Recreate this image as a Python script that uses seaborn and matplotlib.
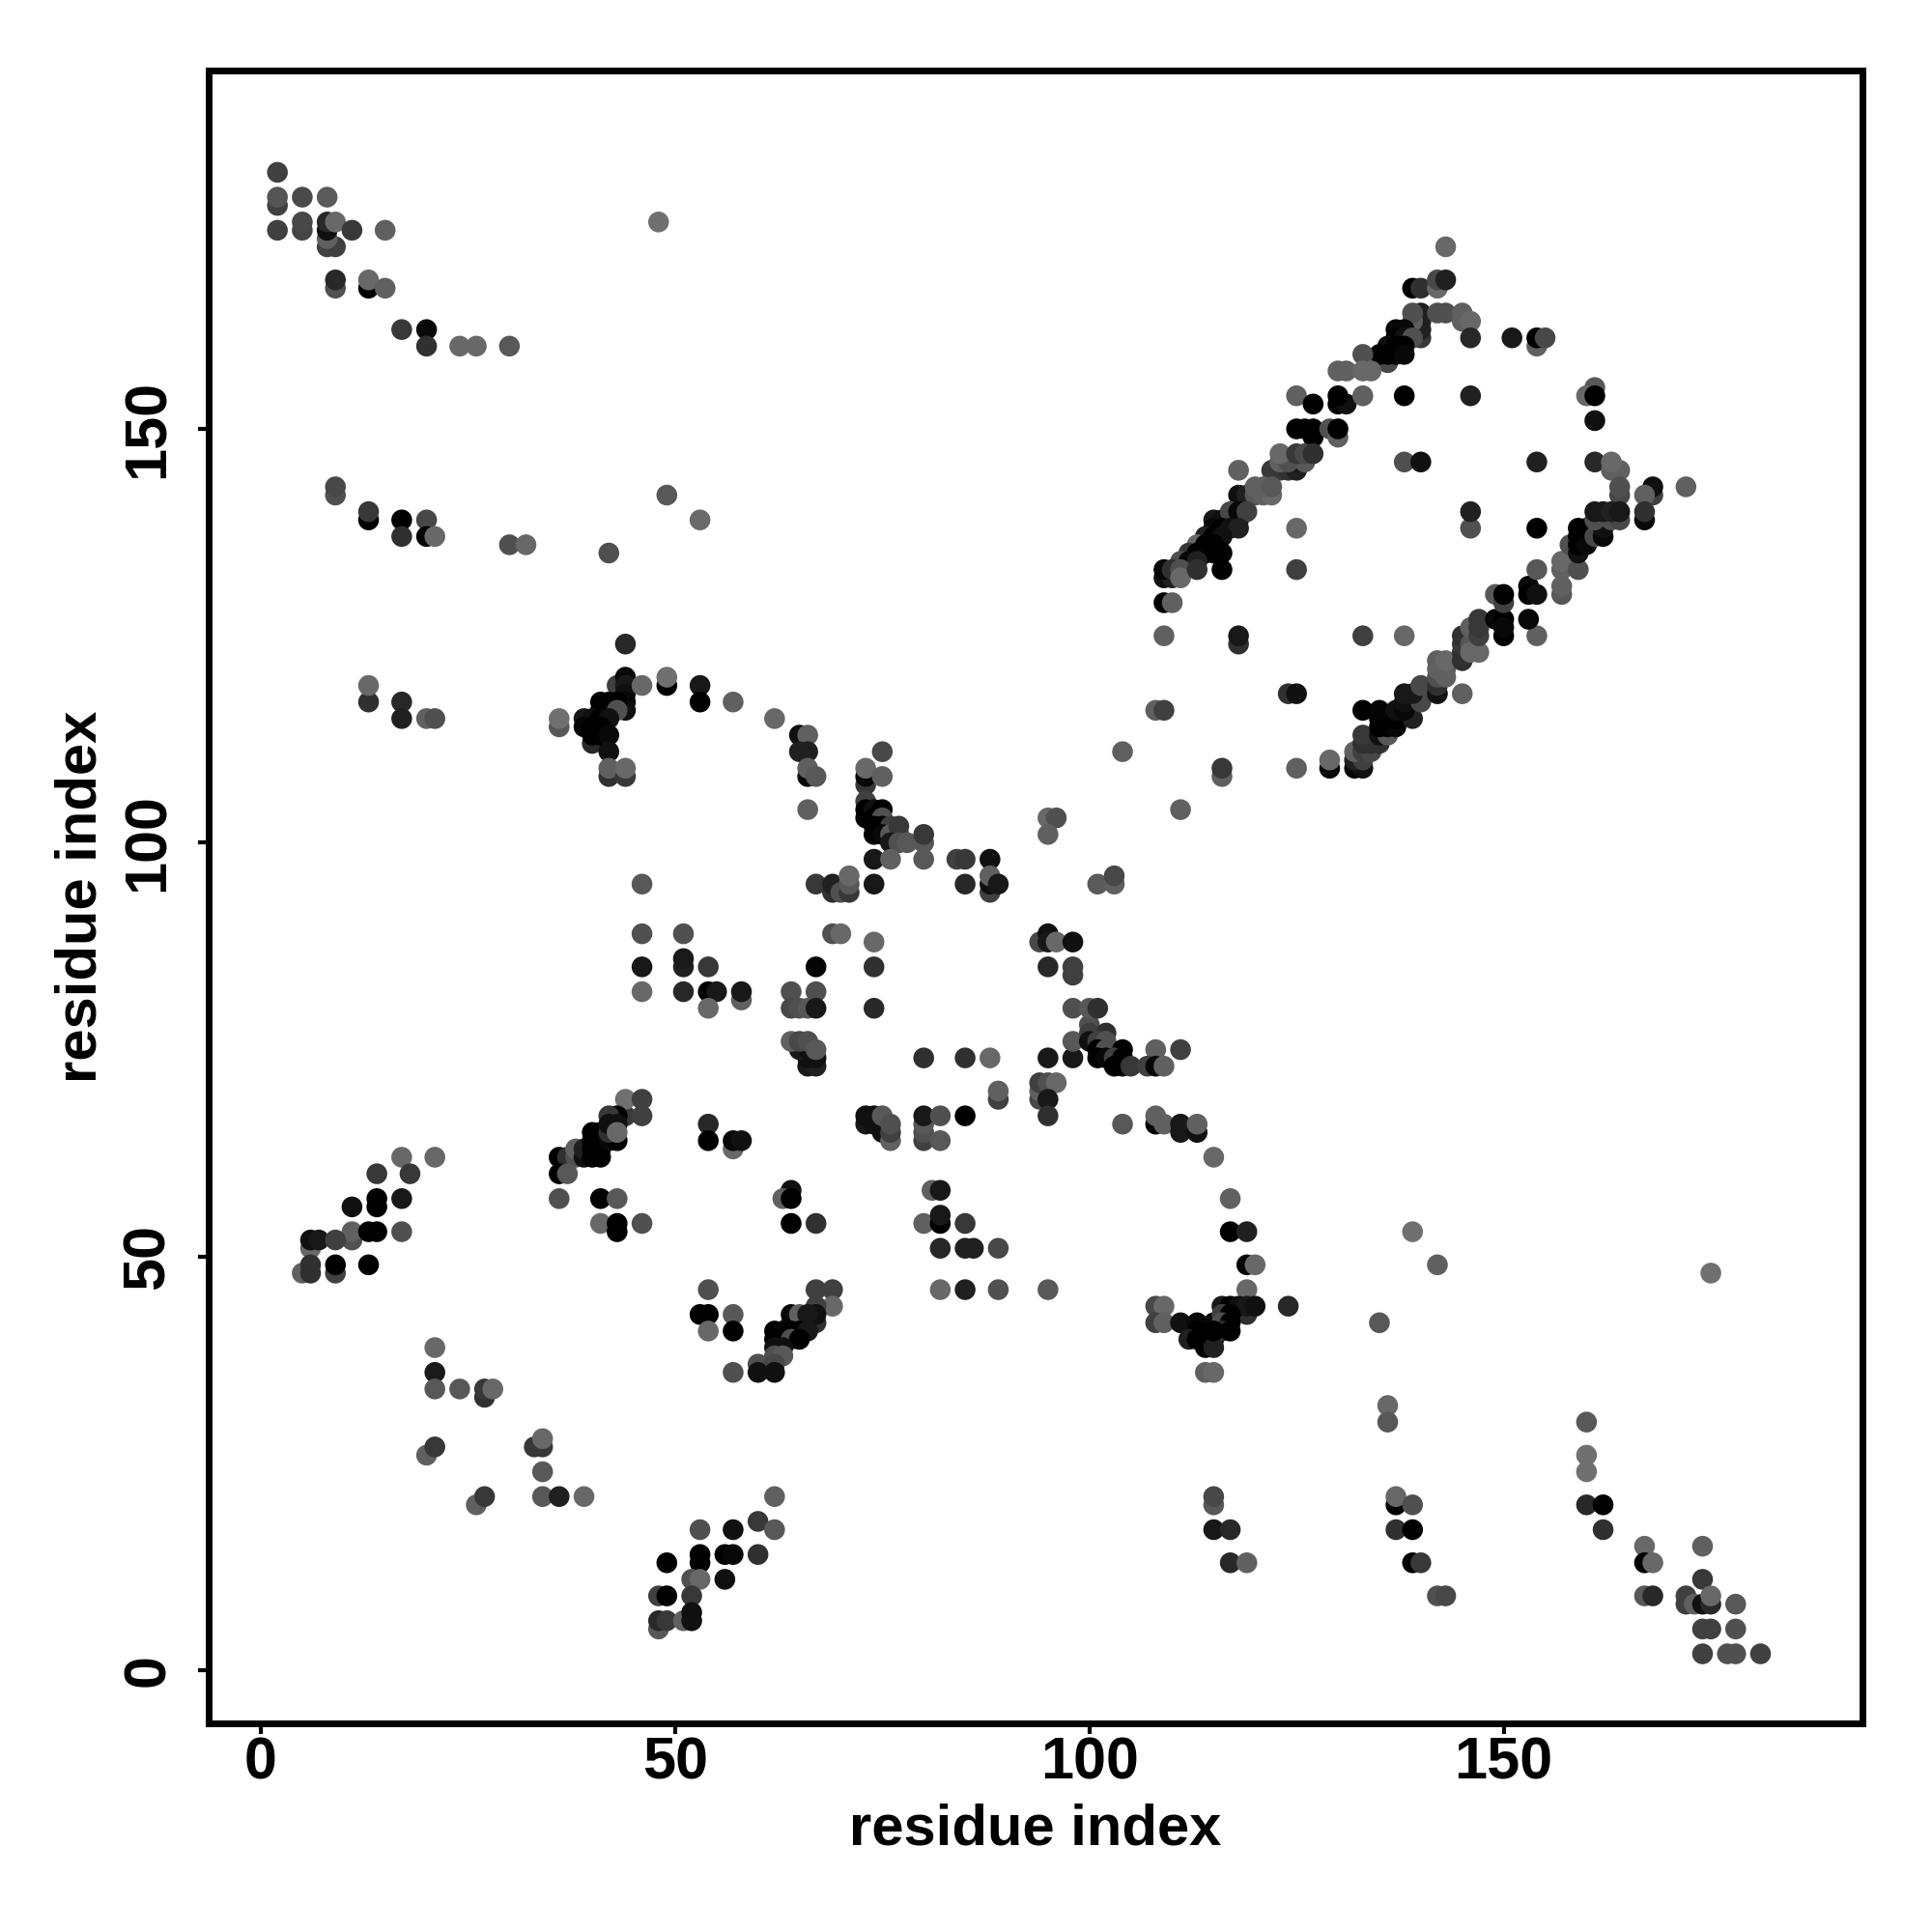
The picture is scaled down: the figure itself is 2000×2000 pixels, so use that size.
import pandas as pd
import matplotlib
matplotlib.use('Agg')
import matplotlib.pyplot as plt
import seaborn as sns

top_left = [(2,181,0x40),(2,177,0x40),(2,178,0x55),(5,178,0x4a),(8,178,0x5a),(2,174,0x40),(5,174,0x45),(5,175,0x48),
    (8,172,0x40),(9,172,0x40),(8,173,0x60),(8,174,0x10),(8,175,0x28),(9,175,0x68),(11,174,0x38),(15,174,0x60),
    (9,167,0x50),(9,168,0x28),(13,167,0x00),(13,168,0x68),(15,167,0x60),(17,162,0x38),(20,162,0x08),(20,160,0x30),
    (24,160,0x68),(26,160,0x68),(30,160,0x58),(48,175,0x70)]
upper_row = [(9,142,0x50),(9,143,0x48),(13,139,0x00),(13,140,0x38),(17,139,0x00),(17,137,0x30),(20,139,0x48),
    (20,137,0x00),(21,137,0x68),(30,136,0x50),(32,136,0x68),(42,135,0x50),(49,142,0x58),(53,139,0x6a)]
mid_left = [(13,117,0x30),(13,119,0x68),(17,117,0x28),(17,115,0x20),(20,115,0x60),(21,115,0x50),(36,114,0x58),(36,115,0x70),
    (44,124,0x28),(43,119,0x40),(44,120,0x08),(44,119,0x18),(44,118,0x10),(44,117,0x08),(44,116,0x10),(46,119,0x68),
    (49,119,0x00),(49,120,0x70),(53,119,0x18),(53,117,0x00),(57,117,0x60),(41,117,0x00),(42,117,0x00),(43,117,0x00),
    (41,116,0x00),(42,116,0x00),(43,116,0x50),(39,115,0x18),(40,115,0x10),(41,115,0x00),(42,115,0x10),(39,114,0x05),
    (40,114,0x00),(41,114,0x00),(40,112,0x28),(40,113,0x00),(41,113,0x00),(42,113,0x08),(42,111,0x10),(42,108,0x30),
    (42,109,0x60),(44,108,0x38),(44,109,0x68)]
mid_column = [(46,95,0x58),(46,89,0x50),(51,89,0x50),(46,85,0x18),(51,85,0x20),(51,86,0x1a),(54,85,0x38),(46,82,0x68),
    (51,82,0x28),(54,82,0x00),(55,82,0x18),(58,81,0x60),(58,82,0x18),(54,80,0x68)]
left_strand = [(17,62,0x68),(21,62,0x68),(14,60,0x38),(18,60,0x38),(14,57,0x00),(17,57,0x18),(14,56,0x00),(11,56,0x10),
    (11,52,0x50),(11,53,0x60),(13,53,0x00),(14,53,0x00),(17,53,0x50),(6,51,0x68),(6,52,0x10),(7,52,0x18),(9,52,0x40),
    (5,48,0x60),(6,48,0x30),(6,49,0x30),(9,48,0x40),(9,49,0x00),(13,49,0x00)]
low_left = [(21,39,0x68),(21,36,0x1a),(21,34,0x58),(24,34,0x58),(27,33,0x30),(27,34,0x38),(28,34,0x68),(20,26,0x60),
    (21,27,0x38),(33,27,0x38),(34,27,0x38),(34,28,0x68),(34,24,0x58),(34,21,0x58),(36,21,0x20),(39,21,0x68),
    (26,20,0x60),(27,21,0x38)]
bottom_strand = [(53,17,0x50),(57,17,0x10),(53,13,0x00),(53,14,0x00),(56,14,0x00),(57,14,0x08),(49,13,0x00),(52,11,0x50),
    (53,11,0x68),(56,11,0x10),(52,9,0x38),(48,9,0x40),(49,9,0x00),(48,5,0x58),(48,6,0x28),(49,6,0x38),(51,6,0x60),
    (52,7,0x10),(52,6,0x10),(60,18,0x38),(60,14,0x30),(62,21,0x60),(62,17,0x58)]
strand_36_44 = [(54,66,0x28),(54,64,0x00),(57,63,0x68),(57,64,0x08),(58,64,0x10),(44,67,0x38),(44,69,0x70),(46,69,0x40),
    (46,67,0x40),(43,67,0x00),(42,67,0x38),(36,62,0x00),(37,62,0x30),(38,62,0x50),(38,63,0x60),(39,62,0x10),(39,63,0x20),
    (40,62,0x00),(41,62,0x00),(40,63,0x00),(41,63,0x00),(40,64,0x00),(41,64,0x00),(40,65,0x00),(41,65,0x00),(42,64,0x08),
    (43,64,0x00),(42,65,0x30),(42,66,0x10),(43,66,0x10),(43,65,0x68),(36,60,0x00),(37,60,0x58),(36,57,0x50),(41,57,0x00),
    (43,57,0x58),(41,54,0x68),(43,53,0x00),(43,54,0x00),(46,54,0x50)]
strand_54_69 = [(54,46,0x50),(53,43,0x00),(54,43,0x00),(57,43,0x58),(54,41,0x68),(57,41,0x00),(57,36,0x50),
    (64,58,0x10),(63,57,0x60),(64,57,0x00),(64,54,0x00),(67,54,0x30),(67,46,0x40),(69,46,0x40),(69,44,0x68),(67,42,0x30),
    (67,44,0x40),(67,43,0x10),(64,42,0x40),(64,43,0x08),(65,43,0x60),(66,43,0x18),(62,41,0x00),(63,41,0x08),(64,41,0x00),
    (65,41,0x00),(66,41,0x18),(62,40,0x00),(63,40,0x00),(64,40,0x50),(65,40,0x00),(62,39,0x10),(63,39,0x10),(62,38,0x50),
    (63,38,0x58),(60,37,0x50),(62,37,0x48),(60,36,0x10),(62,36,0x10)]
mid_low = [(81,58,0x60),(82,58,0x18),(80,54,0x60),(82,54,0x00),(82,55,0x18),(85,54,0x38),(82,51,0x28),(85,51,0x20),
    (86,51,0x20),(89,51,0x48),(82,46,0x68),(85,46,0x20),(89,46,0x50),(95,46,0x58)]
strand_108_124 = [(115,62,0x68),(117,57,0x60),(117,53,0x00),(119,53,0x20),(119,49,0x05),(120,49,0x68),(119,46,0x68),
    (108,44,0x48),(109,44,0x68),(108,42,0x40),(109,42,0x60),(111,42,0x10),(113,42,0x08),(113,41,0x00),(114,41,0x00),
    (112,40,0x20),(113,40,0x00),(114,40,0x00),(115,40,0x00),(114,39,0x00),(115,39,0x20),(115,42,0x08),(119,43,0x30),
    (116,44,0x18),(117,44,0x00),(118,44,0x10),(119,44,0x18),(120,44,0x10),(116,43,0x40),(117,43,0x00),(116,42,0x50),
    (117,42,0x00),(116,41,0x30),(117,41,0x00),(115,41,0x00),(114,36,0x60),(115,36,0x68),(115,20,0x58),(115,21,0x48),
    (115,17,0x18),(117,17,0x28),(117,13,0x28),(119,13,0x60),(124,44,0x28)]
lower_right = [(139,53,0x70),(142,49,0x60),(175,48,0x70),(135,42,0x58),(136,32,0x68),(136,30,0x58),(137,20,0x00),(137,21,0x68),
    (139,20,0x50),(137,17,0x30),(139,17,0x00),(139,13,0x00),(140,13,0x38),(142,9,0x50),(143,9,0x48),(160,30,0x58),
    (160,26,0x70),(160,24,0x70),(160,20,0x28),(162,20,0x00),(162,17,0x30),(167,15,0x68),(167,13,0x00),(168,13,0x68),
    (167,9,0x58),(168,9,0x28),(174,15,0x60),(174,11,0x38),(172,8,0x40),(172,9,0x40),(173,8,0x60),(174,8,0x10),(175,8,0x28),
    (175,9,0x68),(178,8,0x58),(174,5,0x40),(175,5,0x40),(178,5,0x50),(174,2,0x40),(177,2,0x50),(178,2,0x50),(181,2,0x40)]
arc_62_80 = [(62,115,0x68),(65,113,0x10),(66,113,0x60),(65,111,0x20),(66,111,0x20),(66,108,0x08),(66,109,0x60),(67,108,0x58),
    (66,104,0x60),(75,111,0x48),(73,107,0x38),(73,108,0x08),(73,109,0x68),(75,108,0x60),(73,105,0x40),(73,104,0x00),
    (73,103,0x00),(74,104,0x10),(75,104,0x00),(74,103,0x00),(75,103,0x50),(74,102,0x00),(75,102,0x00),(76,102,0x40),
    (74,101,0x00),(75,101,0x08),(76,101,0x58),(77,101,0x58),(77,102,0x38),(76,100,0x18),(77,100,0x50),(78,100,0x58),
    (80,100,0x58),(80,101,0x38),(80,98,0x58),(74,98,0x18),(76,98,0x60),(84,98,0x40),(85,98,0x38),(88,98,0x10)]
row_95 = [(67,95,0x38),(69,94,0x30),(69,95,0x20),(70,94,0x50),(71,94,0x38),(71,95,0x58),(71,96,0x68),(74,95,0x18),
    (85,95,0x28),(88,94,0x40),(88,95,0x10),(88,96,0x60),(89,95,0x18),(101,95,0x5a),(103,95,0x60),(103,96,0x48),
    (69,89,0x50),(70,89,0x68),(74,88,0x68),(67,85,0x05),(74,85,0x30)]
block_64_67 = [(64,82,0x50),(67,82,0x50),(64,80,0x48),(65,80,0x50),(66,80,0x58),(67,80,0x18),(74,80,0x28),(66,73,0x18),
    (67,73,0x20),(66,74,0x10),(67,74,0x10),(65,75,0x18),(66,75,0x10),(64,76,0x60),(65,76,0x48),(66,76,0x50),(67,75,0x58),
    (80,74,0x30),(85,74,0x30),(88,74,0x68),(95,74,0x18),(98,74,0x18),(98,76,0x58),(108,75,0x60),(111,75,0x40)]
strand_100_109 = [(100,78,0x50),(100,77,0x40),(102,77,0x30),(100,76,0x10),(101,76,0x40),(102,76,0x50),(101,75,0x00),
    (102,75,0x50),(104,75,0x00),(101,74,0x00),(102,74,0x08),(103,74,0x40),(104,74,0x00),(103,73,0x00),(104,73,0x00),
    (105,73,0x38),(107,73,0x40),(108,73,0x08),(109,73,0x60),(98,80,0x50),(100,80,0x58),(101,80,0x30),(94,88,0x48),
    (95,89,0x10),(95,88,0x18),(96,88,0x68),(98,88,0x10),(95,85,0x28),(98,84,0x40),(98,85,0x40),(95,103,0x68),(96,103,0x50),
    (95,101,0x60),(104,111,0x60),(111,104,0x60),(108,116,0x60),(109,116,0x40),(116,108,0x60),(116,109,0x38)]
block_row_66 = [(89,69,0x40),(89,70,0x60),(94,69,0x48),(94,70,0x60),(94,71,0x40),(95,71,0x50),(96,71,0x68),(95,69,0x18),
    (95,67,0x30),(73,66,0x18),(74,66,0x10),(73,67,0x10),(74,67,0x10),(75,65,0x10),(75,67,0x58),(76,64,0x60),(76,65,0x40),
    (76,66,0x50),(80,64,0x40),(80,65,0x50),(80,66,0x58),(80,67,0x18),(82,67,0x50),(85,67,0x00),(82,64,0x58),(104,66,0x58),
    (108,66,0x00),(108,67,0x60),(109,66,0x60),(111,65,0x18),(111,66,0x18),(113,65,0x10),(113,66,0x60)]
upper_diag = [(143,172,0x68),(139,167,0x00),(140,167,0x30),(142,167,0x68),(142,168,0x48),(143,168,0x20),(140,161,0x38),
    (140,162,0x20),(140,163,0x20),(140,164,0x20),(139,163,0x60),(139,164,0x50),(142,164,0x50),(143,164,0x50),(145,164,0x60),
    (145,163,0x60),(146,163,0x68),(146,161,0x28),(151,161,0x18),(154,160,0x60),(154,161,0x00),(155,161,0x48),(137,162,0x08),
    (138,162,0x08),(137,161,0x00),(138,161,0x10),(139,161,0x50),(136,160,0x10),(137,160,0x00),(138,160,0x00),(136,158,0x48),
    (135,159,0x00),(136,159,0x00),(137,159,0x00),(138,159,0x08),(133,159,0x50),(130,157,0x60),(131,157,0x60),(133,157,0x68),
    (134,157,0x68),(125,154,0x60),(130,153,0x00),(131,153,0x10),(130,154,0x00),(133,154,0x60),(138,154,0x00),(146,154,0x20),
    (127,153,0x00),(127,149,0x00),(125,150,0x00),(126,150,0x00),(127,150,0x00),(129,150,0x50),(130,149,0x60),(130,150,0x00),
    (161,155,0x58),(160,154,0x68),(161,154,0x00),(161,151,0x10),(122,145,0x38),(123,145,0x38),(124,145,0x30),(125,145,0x20),
    (125,146,0x18),(126,146,0x58),(123,146,0x60),(124,146,0x50),(123,147,0x68),(125,147,0x38),(126,147,0x48),(127,147,0x30),
    (118,145,0x60),(138,146,0x50),(140,146,0x10),(154,146,0x20),(161,146,0x28),(163,145,0x60),(164,145,0x60),(163,146,0x68),
    (164,142,0x48),(164,143,0x50),(168,142,0x40),(168,143,0x10),(167,142,0x60),(172,143,0x60),(118,142,0x10),(119,142,0x20),
    (120,142,0x58),(121,142,0x60),(122,142,0x68),(120,143,0x60),(121,143,0x60),(122,143,0x58),(117,139,0x30),(118,139,0x10),
    (115,139,0x18),(116,139,0x10),(117,140,0x48),(118,140,0x08),(119,140,0x40),(115,138,0x08),(116,138,0x00),(117,138,0x10),
    (118,138,0x20),(114,137,0x20),(115,137,0x00),(116,137,0x10),(113,136,0x68),(114,136,0x00),(115,136,0x00),(112,135,0x38),
    (113,135,0x00),(114,135,0x00),(115,135,0x00),(116,135,0x00),(111,134,0x50),(112,134,0x08),(113,134,0x20),(109,132,0x10),
    (110,132,0x20),(109,133,0x08),(110,133,0x30),(111,133,0x50),(111,132,0x68),(113,133,0x30),(116,133,0x00),(125,133,0x40),
    (109,129,0x00),(110,129,0x60),(125,138,0x68),(146,138,0x50),(146,140,0x20),(154,138,0x00),(109,125,0x60),(118,124,0x30),
    (118,125,0x18),(133,125,0x40),(138,125,0x68),(150,125,0x00),(154,125,0x60),(124,118,0x30),(125,118,0x10),(145,118,0x60)]
lower_diag = [(125,109,0x60),(129,109,0x08),(129,110,0x68),(132,109,0x08),(133,109,0x10),(132,110,0x20),(133,110,0x40),
    (132,111,0x60),(133,111,0x40),(134,111,0x48),(133,112,0x30),(134,112,0x30),(135,112,0x30),(133,113,0x38),(135,113,0x10),
    (136,113,0x58),(135,114,0x00),(136,114,0x00),(137,114,0x08),(135,115,0x00),(136,115,0x00),(137,115,0x00),(139,115,0x20),
    (133,116,0x00),(135,116,0x05),(137,116,0x10),(138,116,0x08),(138,117,0x10),(140,117,0x48),(138,118,0x18),(139,118,0x18),
    (140,119,0x48),(142,118,0x10),(142,119,0x30),(142,120,0x50),(143,120,0x60),(142,121,0x60),(143,121,0x60),(142,122,0x60),
    (143,122,0x68),(145,123,0x30),(145,122,0x30),(145,124,0x38),(145,125,0x30),(146,124,0x58),(146,123,0x68),(147,123,0x68),
    (146,126,0x60),(147,125,0x40),(147,126,0x38),(147,127,0x38),(149,127,0x08),(150,127,0x00),(150,126,0x08),(153,127,0x08),
    (149,130,0x58),(150,129,0x40),(150,130,0x00),(153,131,0x08),(153,130,0x00),(154,130,0x10),(154,133,0x58),(157,130,0x58),
    (157,131,0x60),(157,133,0x60),(157,134,0x68),(159,133,0x50),(158,136,0x50),(159,135,0x10),(159,136,0x00),(159,137,0x00),
    (159,138,0x00),(160,136,0x08),(160,138,0x00),(161,137,0x48),(162,137,0x08),(162,138,0x10),(161,139,0x50),(163,139,0x50),
    (164,139,0x48),(161,140,0x18),(162,140,0x18),(163,140,0x20),(164,140,0x18),(167,139,0x08),(167,140,0x30)]

regions = [top_left, upper_row, mid_left, mid_column, left_strand, low_left, bottom_strand, strand_36_44, strand_54_69,
           mid_low, strand_108_124, lower_right, arc_62_80, row_95, block_64_67, strand_100_109, block_row_66,
           upper_diag, lower_diag]
tick_values = [0, 50, 100, 150]


def main():
    df = pd.DataFrame([p for region in regions for p in region], columns=['x', 'y', 'grey'])

    sns.set_theme(style='white')
    plt.rcParams['font.family'] = ['Liberation Sans', 'DejaVu Sans']

    fig = plt.figure(figsize=(10, 10), dpi=200)
    ax = fig.add_axes([0.108, 0.108, 0.856, 0.8555])

    sns.scatterplot(data=df, x='x', y='y', hue='grey', palette='gray', hue_norm=(0, 255),
                    s=60, linewidth=0, legend=False, ax=ax)

    ax.set_xlim(-6.3, 193.3)
    ax.set_ylim(-6.4, 193.3)
    ax.set_xticks(tick_values)
    ax.set_yticks(tick_values)
    ax.set_xticklabels(tick_values, fontsize=22, fontweight='bold')
    ax.set_yticklabels(tick_values, fontsize=22, fontweight='bold', rotation=90, va='center')
    ax.tick_params(axis='both', length=4, width=1.5, color='black', labelcolor='black', bottom=True, left=True)
    ax.tick_params(axis='x', pad=1)
    ax.tick_params(axis='y', pad=8)
    ax.set_xlabel('residue index', fontsize=21.5, fontweight='bold', color='black', labelpad=4)
    ax.set_ylabel('residue index', fontsize=21.5, fontweight='bold', color='black', labelpad=5)

    for spine in ax.spines.values():
        spine.set_linewidth(2.5)
        spine.set_color('black')

    fig.savefig('out.png', dpi=200)
    plt.close(fig)


if __name__ == "__main__":
    main()
